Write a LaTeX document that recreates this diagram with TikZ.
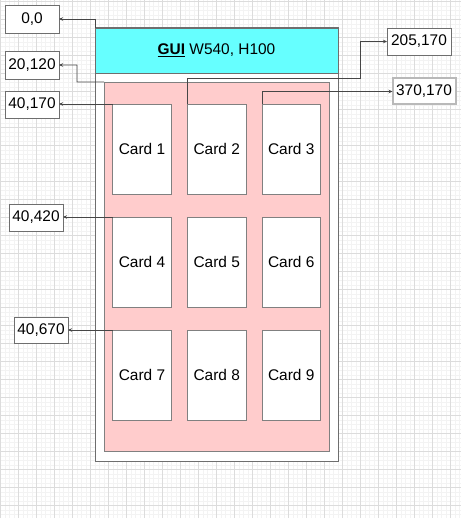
\documentclass[tikz,border=0pt]{standalone}
\usepackage{fontspec}
\setmainfont{Liberation Sans}
\usetikzlibrary{arrows.meta}
\definecolor{bordergray}{RGB}{110,110,110}
\definecolor{cardgray}{RGB}{128,128,128}
\definecolor{guicyan}{RGB}{102,255,255}
\definecolor{panelpink}{RGB}{255,204,204}
\definecolor{conncol}{RGB}{70,70,70}
\definecolor{gridminor}{RGB}{243,243,243}
\definecolor{gridmajor}{RGB}{220,220,220}
\begin{document}
\begin{tikzpicture}[x=1bp,y=-1bp,
  every node/.style={font=\fontsize{15.5}{18}\selectfont, inner sep=0pt, outer sep=0pt},
  lbl/.style={draw=bordergray, fill=white, line width=0.8bp, minimum width=54bp, minimum height=27bp},
  cardbox/.style={draw=cardgray, fill=white, line width=0.8bp, minimum width=58.5bp, minimum height=90bp},
  conn/.style={draw=conncol, line width=0.6bp, -{Stealth[length=4bp,width=3.5bp]}}
]
\useasboundingbox (0,0) rectangle (461,518);
\fill[white] (0,0) rectangle (461,518);
% grid
\foreach \i in {0,...,103} {
  \draw[gridminor, line width=0.5bp] (0.7+4.5*\i,0) -- (0.7+4.5*\i,518);
}
\foreach \i in {0,...,115} {
  \draw[gridminor, line width=0.5bp] (0,1.3+4.5*\i) -- (461,1.3+4.5*\i);
}
\foreach \i in {0,...,25} {
  \draw[gridmajor, line width=0.6bp] (0.7+18*\i,0) -- (0.7+18*\i,518);
}
\foreach \i in {0,...,28} {
  \draw[gridmajor, line width=0.6bp] (0,1.3+18*\i) -- (461,1.3+18*\i);
}
% frame
\node[draw=bordergray, fill=white, line width=1bp, minimum width=243bp, minimum height=433bp] (frame) at (216.5,244.5) {};
\node[draw=bordergray, fill=guicyan, line width=0.8bp, minimum width=243bp, minimum height=45bp] (gui) at (216.5,50.5) {\textbf{\underline{GUI}} W540, H100};
\node[draw=cardgray, fill=panelpink, line width=0.8bp, minimum width=225bp, minimum height=369bp] (pink) at (216.5,266.5) {};
% cards
\node[cardbox] (c1) at (142,149) {Card 1};
\node[cardbox] (c2) at (216.75,149) {Card 2};
\node[cardbox] (c3) at (291.25,149) {Card 3};
\node[cardbox] (c4) at (142,262) {Card 4};
\node[cardbox] (c5) at (216.75,262) {Card 5};
\node[cardbox] (c6) at (291.25,262) {Card 6};
\node[cardbox] (c7) at (142,375) {Card 7};
\node[cardbox] (c8) at (216.75,375) {Card 8};
\node[cardbox] (c9) at (291.25,375) {Card 9};
% labels
\node[lbl, minimum height=28bp] (L00) at (32,19) {0,0};
\node[lbl, minimum height=28bp] (L20) at (32,65) {20,120};
\node[lbl] (L40) at (32,104.5) {40,170};
\node[lbl, minimum width=64bp] (L205) at (419,41.5) {205,170};
\node[lbl, draw=gray!55, line width=2bp, minimum width=63bp, minimum height=26bp] (L370) at (424,91.5) {370,170};
\node[lbl] (L420) at (36,217.5) {40,420};
\node[lbl, minimum height=26bp] (L670) at (41,330) {40,670};
% connectors
\coordinate (k20) at (77,82);
\coordinate (k205) at (360,78);
\draw[conn] (frame.north west) |- (L00.east);
\draw[conn] (pink.north west) -- (k20) |- (L20.east);
\draw[conn] (c1.north west) -- (L40.east |- c1.north west);
\draw[conn] (c2.north west) |- (k205) |- (L205.west);
\draw[conn] (c3.north west) |- (L370.west);
\draw[conn] (c4.north west) -- (L420.east |- c4.north west);
\draw[conn] (c7.north west) -- (L670.east |- c7.north west);
\end{tikzpicture}
\end{document}
